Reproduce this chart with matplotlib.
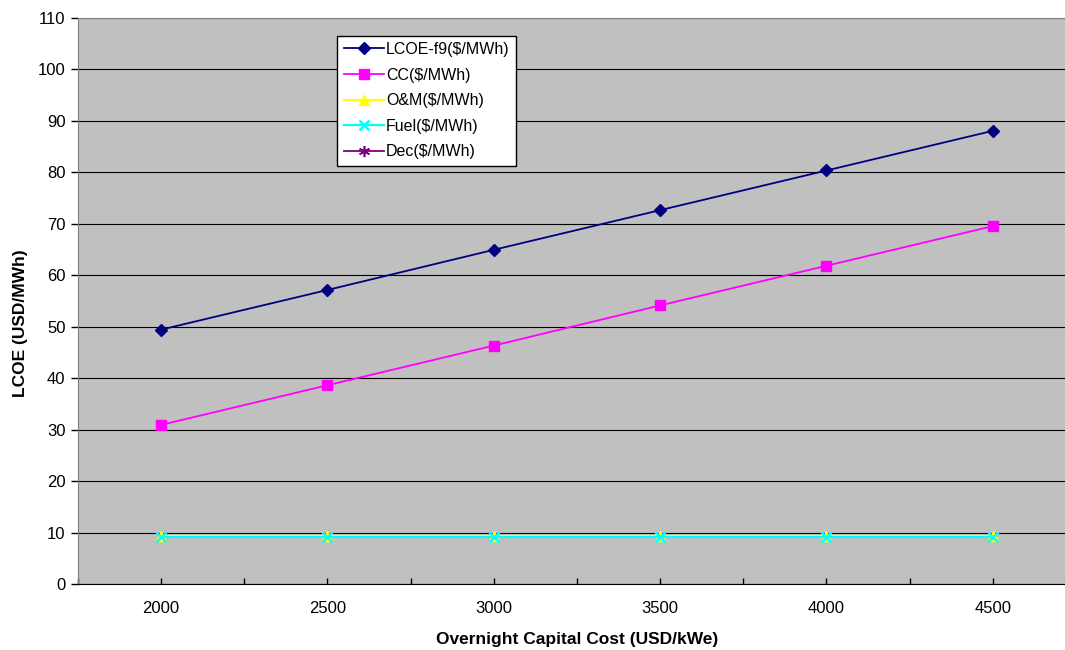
import matplotlib
matplotlib.use("Agg")
import matplotlib.pyplot as plt
import numpy as np

capital_cost = ["2000", "2500", "3000", "3500", "4000", "4500"]
lcoe = [49.4, 57.1, 64.9, 72.6, 80.3, 88.0]
cc = [30.9, 38.6, 46.3, 54.1, 61.8, 69.5]
om = [9.4, 9.4, 9.4, 9.4, 9.4, 9.4]
fuel = [9.1, 9.1, 9.1, 9.1, 9.1, 9.1]
dec = [np.nan] * 6  # no decommissioning values plotted

plt.rcParams['font.family'] = ['Liberation Sans', 'DejaVu Sans']

fig = plt.figure(figsize=(10.65, 6.5), dpi=100)
ax = fig.add_axes([0.0732, 0.1015, 0.9371, 0.8715])
ax.set_facecolor('#C0C0C0')

x = np.arange(len(capital_cost))
ax.plot(x, lcoe, color='#000080', marker='D', markersize=6.5, lw=1.3, label='LCOE-f9($/MWh)', zorder=3)
ax.plot(x, cc, color='#FF00FF', marker='s', markersize=7, lw=1.3, label='CC($/MWh)', zorder=3)
ax.plot(x, om, color='#FFFF00', marker='^', markersize=7, lw=1.6, label='O&M($/MWh)', zorder=3)
ax.plot(x, fuel, color='#00FFFF', marker='x', markersize=7, mew=1.8, lw=1.6, label='Fuel($/MWh)', zorder=3)
ax.plot(x, dec, color='#800080', marker=(6, 2, 0), markersize=8, mew=1.2, lw=1.3, label='Dec($/MWh)', zorder=3)

ax.set_xlim(-0.5, len(capital_cost) - 0.5)
ax.set_ylim(0, 110)
ax.set_yticks(np.arange(0, 111, 10))
ax.set_xticks(x)
ax.set_xticklabels(capital_cost)
ax.set_xticks(np.arange(-0.5, len(capital_cost), 1.0), minor=True)
ax.tick_params(axis='x', which='both', direction='in', length=4, width=1, pad=12, labelsize=12)
ax.tick_params(axis='y', direction='out', length=5, width=1, pad=4, labelsize=12)

ax.yaxis.grid(True, color='#000000', lw=0.8)
ax.set_axisbelow(True)
for side in ['top', 'right']:
    ax.spines[side].set_color('#808080')
ax.spines['left'].set_color('#808080')
ax.spines['bottom'].set_color('#000000')

ax.set_xlabel('Overnight Capital Cost (USD/kWe)', fontsize=12.5, fontweight='bold', labelpad=12)
ax.set_ylabel('LCOE (USD/MWh)', fontsize=12.5, fontweight='bold', labelpad=12)
ax.yaxis.set_label_coords(-0.05, 0.46)

leg = ax.legend(loc='upper left', bbox_to_anchor=(0.26, 0.968), fontsize=11.5,
                frameon=True, fancybox=False, edgecolor='black', facecolor='white',
                framealpha=1, handlelength=2.5, handletextpad=0.15, borderpad=0.4,
                labelspacing=0.66, borderaxespad=0)
leg.get_frame().set_linewidth(1.0)

fig.savefig('out.png', dpi=100)
